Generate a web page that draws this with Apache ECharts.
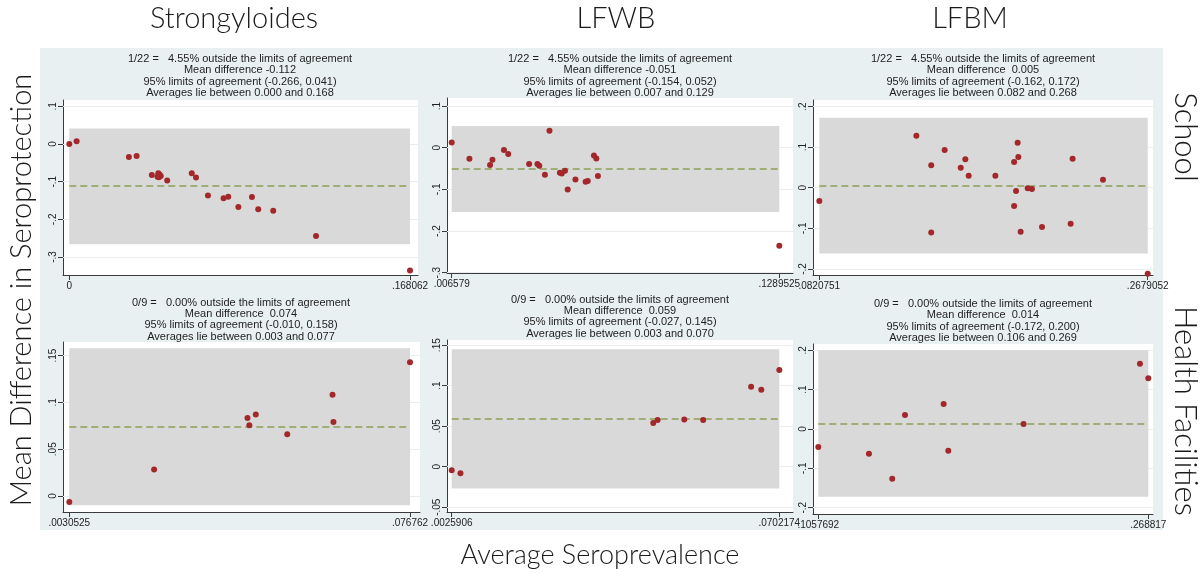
<!DOCTYPE html>
<html><head><meta charset="utf-8">
<script src="https://cdn.jsdelivr.net/npm/echarts@6/dist/echarts.min.js"></script>
<style>html,body{margin:0;padding:0;background:#fff}#c{width:1202px;height:573px}</style>
</head><body><div id="c"></div>
<script>
// ---------- DATA ----------
const diseases = ['Strongyloides', 'LFWB', 'LFBM'];
const settings = ['School', 'Health Facilities'];
const xAxisTitle = 'Average Seroprevalence';
const yAxisTitle = 'Mean Difference in Seroprotection';

// [average seroprevalence, difference in seroprotection]
const strongSchool = [
  [0, 0], [0.0036, 0.007], [0.0294, -0.0345], [0.0332, -0.032], [0.0407, -0.082],
  [0.0435, -0.087], [0.0439, -0.078], [0.0442, -0.0885], [0.0445, -0.081], [0.0451, -0.085],
  [0.0483, -0.097], [0.0604, -0.078], [0.0625, -0.089], [0.0684, -0.137], [0.0761, -0.144],
  [0.0784, -0.140], [0.0834, -0.167], [0.0901, -0.141], [0.0932, -0.173], [0.1006, -0.177],
  [0.1217, -0.244], [0.168062, -0.336]
];
const lfwbSchool = [
  [0.006579, 0.0128], [0.0132, -0.0264], [0.0209, -0.0416], [0.0218, -0.0288], [0.0261, -0.0056],
  [0.0277, -0.0152], [0.0355, -0.0392], [0.0386, -0.0392], [0.0393, -0.0432], [0.0414, -0.0648],
  [0.0431, 0.0408], [0.0470, -0.060], [0.0477, -0.0616], [0.0489, -0.0552], [0.0499, -0.100],
  [0.0528, -0.076], [0.0566, -0.0816], [0.0574, -0.080], [0.0597, -0.0184], [0.0606, -0.0256],
  [0.0612, -0.068], [0.1289525, -0.2352]
];
const lfbmSchool = [
  [0.0820751, -0.0329], [0.1370, 0.1282], [0.1454, 0.0551], [0.1454, -0.1101], [0.1530, 0.0929],
  [0.1621, 0.0493], [0.1647, 0.0698], [0.1666, 0.0296], [0.1817, 0.0296], [0.1923, 0.0633],
  [0.1923, -0.0452], [0.1934, -0.0082], [0.1943, 0.1109], [0.1947, 0.0756], [0.1960, -0.1085],
  [0.2000, -0.0016], [0.2024, -0.0033], [0.2081, -0.097], [0.2243, -0.0887], [0.2254, 0.0715],
  [0.2426, 0.0197], [0.2679052, -0.212]
];
const strongHF = [
  [0.0030525, -0.0064], [0.0214, 0.0282], [0.0416, 0.0834], [0.0420, 0.0756], [0.0434, 0.087],
  [0.0502, 0.0659], [0.0600, 0.1083], [0.0602, 0.0791], [0.076762, 0.1429]
];
const lfwbHF = [
  [0.0025906, -0.0045], [0.0044, -0.0082], [0.0442, 0.0539], [0.0451, 0.0576], [0.0506, 0.0584],
  [0.0545, 0.0576], [0.0644, 0.0988], [0.0665, 0.0951], [0.0702174, 0.1193]
];
const lfbmHF = [
  [0.1057692, -0.0458], [0.1308, -0.0627], [0.1423, -0.1263], [0.1486, 0.0356], [0.1677, 0.0636],
  [0.1700, -0.0551], [0.2072, 0.0127], [0.2647, 0.1661], [0.268817, 0.1288]
];

const outsideCount = ['1/22', '1/22', '1/22', '0/9', '0/9', '0/9'];
const outsidePct = ['4.55', '4.55', '4.55', '0.00', '0.00', '0.00'];
const meanDiff = [-0.112, -0.051, 0.005, 0.074, 0.059, 0.014];
const loaLower = [-0.266, -0.154, -0.162, -0.010, -0.027, -0.172];
const loaUpper = [0.041, 0.052, 0.172, 0.158, 0.145, 0.200];
const avgLow = ['0.000', '0.007', '0.082', '0.003', '0.003', '0.106'];
const avgHigh = ['0.168', '0.129', '0.268', '0.077', '0.070', '0.269'];

const yTicks = [
  [0.1, 0, -0.1, -0.2, -0.3],
  [0.1, 0, -0.1, -0.2, -0.3],
  [0.2, 0.1, 0, -0.1, -0.2],
  [0.15, 0.1, 0.05, 0],
  [0.15, 0.1, 0.05, 0, -0.05],
  [0.2, 0.1, 0, -0.1, -0.2]
];

const panelData = [strongSchool, lfwbSchool, lfbmSchool, strongHF, lfwbHF, lfbmHF];

// ---------- LAYOUT (pixels / axis ranges) ----------
const layout = [
  { g: [63, 100, 355, 175], x: [-0.00311, 0.17201], y: [-0.3478, 0.1168], tTop: 53.5, cx: 240 },
  { g: [447, 98, 346, 175], x: [0.004823, 0.13407], y: [-0.3007, 0.1193], tTop: 53.5, cx: 620 },
  { g: [813, 100, 340, 175], x: [0.0785, 0.2709], y: [-0.215, 0.216], tTop: 53.5, cx: 983 },
  { g: [63, 342, 357, 170], x: [0.00169, 0.078926], y: [-0.0171, 0.1646], tTop: 297, cx: 241 },
  { g: [447, 340, 346, 172], x: [0.00162, 0.073046], y: [-0.0559, 0.1564], tTop: 294, cx: 620 },
  { g: [813, 344, 340, 170], x: [0.10315, 0.27114], y: [-0.216, 0.216], tTop: 298.5, cx: 983 }
];

const fmt = v => String(v).replace(/^0\./, '.').replace(/^-0\./, '-.');
const f3 = v => v.toFixed(3);
const FONT = 'Liberation Sans, Arial, sans-serif';
const BIG = 'Lato, "Open Sans", sans-serif';

const grids = [], xAxes = [], yAxes = [], series = [], titles = [];
panelData.forEach((pts, i) => {
  const L = layout[i];
  const xs = pts.map(p => p[0]);
  const xmin = Math.min(...xs), xmax = Math.max(...xs);
  grids.push({ left: L.g[0], top: L.g[1], width: L.g[2], height: L.g[3], show: true,
    backgroundColor: '#ffffff', borderWidth: 0, containLabel: false });
  xAxes.push({ type: 'value', gridIndex: i, min: L.x[0], max: L.x[1],
    axisLine: { show: true, onZero: false, lineStyle: { color: '#3a3a3a', width: 1 } },
    axisTick: { show: true, length: 5, customValues: [xmin, xmax], lineStyle: { color: '#3a3a3a' } },
    axisLabel: { show: true, customValues: [xmin, xmax], formatter: fmt, fontSize: 10,
      fontFamily: FONT, color: '#222', margin: 6 },
    splitLine: { show: false } });
  yAxes.push({ type: 'value', gridIndex: i, min: L.y[0], max: L.y[1],
    axisLine: { show: true, onZero: false, lineStyle: { color: '#3a3a3a', width: 1 } },
    axisTick: { show: true, length: 5, customValues: yTicks[i], lineStyle: { color: '#3a3a3a' } },
    axisLabel: { show: true, customValues: yTicks[i], formatter: fmt, fontSize: 10, rotate: 90,
      fontFamily: FONT, color: '#222', margin: 5 },
    splitLine: { show: false } });
  const md = meanDiff[i];
  titles.push({
    text: outsideCount[i] + ' =   ' + outsidePct[i] + '% outside the limits of agreement\n' +
      'Mean difference ' + (md >= 0 ? ' ' : '') + f3(md) + '\n' +
      '95% limits of agreement (' + f3(loaLower[i]) + ', ' + f3(loaUpper[i]) + ')\n' +
      'Averages lie between ' + avgLow[i] + ' and ' + avgHigh[i],
    left: L.cx, top: L.tTop, textAlign: 'center', padding: 0,
    textStyle: { fontSize: 11, lineHeight: 11.3, fontWeight: 'normal', color: '#1e1e1e', fontFamily: FONT }
  });
  // horizontal gridlines
  series.push({ type: 'line', xAxisIndex: i, yAxisIndex: i, data: [], silent: true,
    markLine: { silent: true, z: 1, symbol: ['none', 'none'], label: { show: false }, animation: false,
      lineStyle: { color: '#ebeef0', width: 1, type: 'solid' },
      data: yTicks[i].map(v => ({ yAxis: v })) } });
  // limits of agreement band
  series.push({ type: 'line', xAxisIndex: i, yAxisIndex: i, data: [], silent: true,
    markArea: { silent: true, z: 2, itemStyle: { color: '#d9d9d9' }, label: { show: false },
      data: [[{ coord: [xmin, loaLower[i]] }, { coord: [xmax, loaUpper[i]] }]] } });
  // mean difference
  series.push({ type: 'line', xAxisIndex: i, yAxisIndex: i, data: [], silent: true,
    markLine: { silent: true, z: 3, symbol: ['none', 'none'], label: { show: false }, animation: false,
      lineStyle: { color: '#8aa055', width: 1.6, type: [7, 4] },
      data: [[{ coord: [xmin, md] }, { coord: [xmax, md] }]] } });
  // points
  series.push({ type: 'scatter', xAxisIndex: i, yAxisIndex: i, data: pts, z: 4,
    symbol: 'circle', symbolSize: 6, itemStyle: { color: '#a3282b', opacity: 1 } });
});

// header titles
const headerX = [234, 616, 970];
diseases.forEach((d, k) => titles.push({
  text: d, left: headerX[k], top: 4, textAlign: 'center', padding: 0,
  textStyle: { fontSize: 29, fontWeight: 300, color: '#1a1a1a', fontFamily: BIG }
}));

const graphic = [
  { type: 'rect', z: -100, shape: { x: 40, y: 48, width: 1123, height: 482 }, style: { fill: '#e9f0f2' } },
  { type: 'text', z: 10, x: 22, y: 290, rotation: Math.PI / 2,
    style: { text: yAxisTitle, font: '300 29px ' + BIG, fill: '#1a1a1a', align: 'center', verticalAlign: 'middle' } },
  { type: 'text', z: 10, x: 600, y: 555,
    style: { text: xAxisTitle, font: '300 27px ' + BIG, fill: '#1a1a1a', align: 'center', verticalAlign: 'middle' } },
  { type: 'text', z: 10, x: 1185, y: 137, rotation: -Math.PI / 2,
    style: { text: settings[0], font: '300 31px ' + BIG, fill: '#1a1a1a', align: 'center', verticalAlign: 'middle' } },
  { type: 'text', z: 10, x: 1185, y: 411, rotation: -Math.PI / 2,
    style: { text: settings[1], font: '300 31px ' + BIG, fill: '#1a1a1a', align: 'center', verticalAlign: 'middle' } }
];

const chart = echarts.init(document.getElementById('c'), null, { renderer: 'canvas' });
chart.setOption({
  animation: false,
  backgroundColor: '#ffffff',
  title: titles,
  grid: grids,
  xAxis: xAxes,
  yAxis: yAxes,
  series: series,
  graphic: graphic
});
</script></body></html>
